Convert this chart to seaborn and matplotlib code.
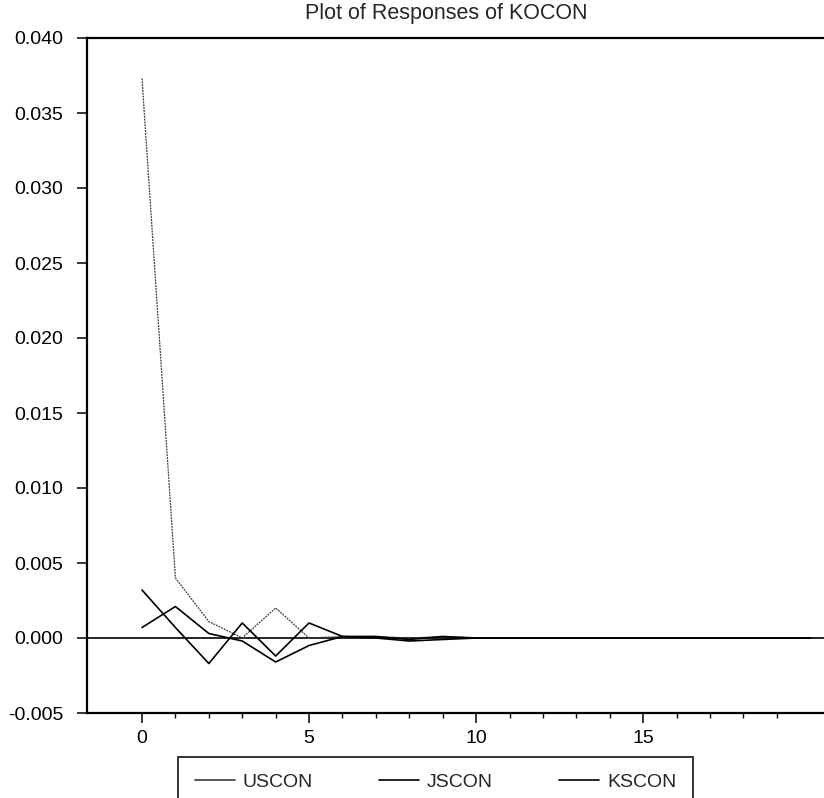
import matplotlib
matplotlib.use("Agg")
import matplotlib.pyplot as plt
import seaborn as sns
import pandas as pd
from matplotlib.lines import Line2D
from matplotlib.ticker import FixedLocator, FixedFormatter

# ---- data ----
periods = list(range(21))
uscon = [0.0373, 0.0040, 0.0011, 0.0000, 0.0020, 0.0000, 0.0001, 0.0001, 0.0000, 0.0001,
         0.0000, 0.0000, 0.0000, 0.0000, 0.0000, 0.0000, 0.0000, 0.0000, 0.0000, 0.0000, 0.0000]
jscon = [0.0032, 0.0007, -0.0017, 0.0010, -0.0012, 0.0010, 0.0001, 0.0001, -0.0001, 0.0001,
         0.0000, 0.0000, 0.0000, 0.0000, 0.0000, 0.0000, 0.0000, 0.0000, 0.0000, 0.0000, 0.0000]
kscon = [0.0007, 0.0021, 0.0003, -0.0002, -0.0016, -0.0005, 0.0001, 0.0000, -0.0002, -0.0001,
         0.0000, 0.0000, 0.0000, 0.0000, 0.0000, 0.0000, 0.0000, 0.0000, 0.0000, 0.0000, 0.0000]
series_names = ["USCON", "JSCON", "KSCON"]
xtick_values = [0, 5, 10, 15]
xtick_labels = ["0", "5", "10", "15"]
ytick_values = [-0.005, 0.000, 0.005, 0.010, 0.015, 0.020, 0.025, 0.030, 0.035, 0.040]
ytick_labels = ["-0.005", "0.000", "0.005", "0.010", "0.015", "0.020", "0.025", "0.030", "0.035", "0.040"]
title = "Plot of Responses of KOCON"

df = pd.DataFrame({"period": periods * 3,
                   "value": uscon + jscon + kscon,
                   "series": [s for s in series_names for _ in periods]})

sns.set_theme(style="white")
plt.rcParams["font.family"] = ["Liberation Sans", "DejaVu Sans"]
FS = 14

fig = plt.figure(figsize=(8.24, 7.98), dpi=100)
ax = fig.add_axes([87 / 824, 1 - 713 / 798, 1 - 87 / 824, (713 - 38) / 798])

styles = {"USCON": dict(color="#3a3a3a", lw=0.9, ls=(0, (1.5, 0.8))),
          "JSCON": dict(color="black", lw=1.2, ls="-"),
          "KSCON": dict(color="black", lw=1.2, ls="-")}

ax.axhline(0, color="black", lw=1.2, zorder=1)
for name in series_names:
    sub = df[df["series"] == name]
    st = styles[name]
    sns.lineplot(data=sub, x="period", y="value", ax=ax, color=st["color"],
                 linewidth=st["lw"], linestyle=st["ls"], legend=False, zorder=2)

ax.set_xlim(-1.646, 20.41)
ax.set_ylim(-0.005, 0.040)
ax.xaxis.set_major_locator(FixedLocator(xtick_values))
ax.xaxis.set_major_formatter(FixedFormatter(xtick_labels))
ax.xaxis.set_minor_locator(FixedLocator([v for v in range(1, 20) if v % 5 != 0]))
ax.yaxis.set_major_locator(FixedLocator(ytick_values))
ax.yaxis.set_major_formatter(FixedFormatter(ytick_labels))
ax.set_xlabel("")
ax.set_ylabel("")

for side in ["left", "top", "bottom"]:
    ax.spines[side].set_visible(True)
    ax.spines[side].set_linewidth(1.6)
    ax.spines[side].set_color("black")
ax.spines["right"].set_visible(False)

ax.tick_params(axis="y", which="major", direction="out", length=7, width=1.1,
               pad=10, labelsize=FS, left=True, colors="black")
ax.tick_params(axis="x", which="major", direction="out", length=7, width=1.1,
               pad=5, labelsize=FS, bottom=True, colors="black")
ax.tick_params(axis="x", which="minor", direction="out", length=3.6, width=1.0,
               bottom=True, colors="black")

fig.text(446 / 824, 1 - 14 / 798, title, ha="center", va="center", fontsize=15.5)

handles = [Line2D([], [], color="#3a3a3a", lw=1.2),
           Line2D([], [], color="black", lw=1.2),
           Line2D([], [], color="black", lw=1.2)]
leg = fig.legend(handles, series_names, loc="upper left",
                 bbox_to_anchor=(178 / 824, 1 - 757 / 798), ncol=3,
                 frameon=True, fancybox=False, edgecolor="black",
                 borderaxespad=0, fontsize=FS, handlelength=2.06,
                 handletextpad=0.41, columnspacing=3.4, borderpad=0.85)
leg.get_frame().set_linewidth(1.4)

fig.savefig("out.png", dpi=100)
